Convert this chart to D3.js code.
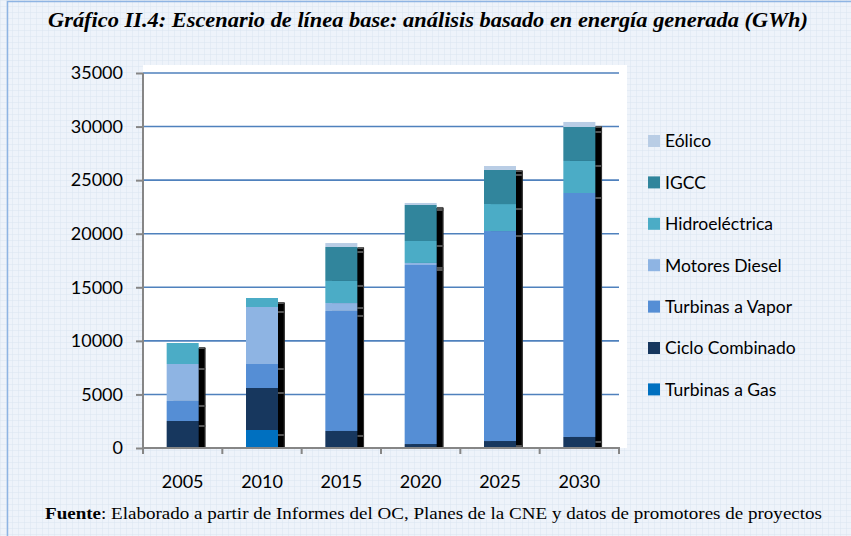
<!DOCTYPE html>
<html>
<head>
<meta charset="utf-8">
<script src="https://cdn.jsdelivr.net/npm/d3@7"></script>
<style>
  html, body { margin: 0; padding: 0; background: #fff; }
  svg { display: block; }
</style>
</head>
<body>
<svg id="chart" width="851" height="536"></svg>
<script>
// ─── Data ─────────────────────────────────────────────────────────────────────
const years = ['2005', '2010', '2015', '2020', '2025', '2030'];

const turbinasGas    = [0, 1680, 0, 0, 0, 0];
const cicloCombinado = [2520, 3920, 1590, 370, 650, 1030];
const turbinasVapor  = [1870, 2240, 11200, 16710, 19600, 22770];
const motoresDiesel  = [3450, 5320, 740, 190, 0, 0];
const hidroelectrica = [1960, 840, 2060, 2050, 2520, 2990];
const igcc           = [0, 0, 3170, 3360, 3180, 3170];
const eolico         = [0, 0, 370, 190, 370, 470];

const yTicks = [0, 5000, 10000, 15000, 20000, 25000, 30000, 35000];

// stacking order bottom → top
const series = [
  { key: 'Turbinas a Gas',   values: turbinasGas,    color: '#0070c0' },
  { key: 'Ciclo Combinado',  values: cicloCombinado, color: '#17375e' },
  { key: 'Turbinas a Vapor', values: turbinasVapor,  color: '#558ed5' },
  { key: 'Motores Diesel',   values: motoresDiesel,  color: '#8eb4e3' },
  { key: 'Hidroeléctrica',   values: hidroelectrica, color: '#4bacc6' },
  { key: 'IGCC',             values: igcc,           color: '#31859c' },
  { key: 'Eólico',           values: eolico,         color: '#b9cde5' }
];

// ─── Layout ───────────────────────────────────────────────────────────────────
const W = 851, H = 536;
const plot = { left: 143, right: 619, top: 73, bottom: 448 };
const SHADOW_DX = 6.7, SHADOW_DY = 5;
const sans = 'Lato, "Open Sans", sans-serif';
const serif = '"Liberation Serif", "Times New Roman", serif';

const svg = d3.select('#chart');
const defs = svg.append('defs');

// graph-paper background
const pat = defs.append('pattern')
  .attr('id', 'paper')
  .attr('width', 6).attr('height', 6)
  .attr('patternUnits', 'userSpaceOnUse');
pat.append('rect').attr('width', 6).attr('height', 6).attr('fill', '#eef3fa');
pat.append('path').attr('d', 'M6,0 L0,0 L0,6').attr('fill', 'none')
  .attr('stroke', '#dbe5f1').attr('stroke-width', 1);

defs.append('clipPath').attr('id', 'plotClip')
  .append('rect')
  .attr('x', plot.left).attr('y', 0)
  .attr('width', W).attr('height', plot.bottom);

svg.append('rect').attr('width', W).attr('height', H).attr('fill', 'url(#paper)');
svg.append('rect')
  .attr('x', 7.5).attr('y', 1.5).attr('width', W + 20).attr('height', H + 20)
  .attr('fill', 'none').attr('stroke', '#8eb4e3').attr('stroke-width', 1.5);

// white plot area
svg.append('rect')
  .attr('x', plot.left).attr('y', plot.top - 8)
  .attr('width', plot.right - plot.left + 8).attr('height', plot.bottom - plot.top + 8)
  .attr('fill', '#ffffff');

// ─── Scales ───────────────────────────────────────────────────────────────────
const x = d3.scaleBand()
  .domain(years)
  .range([plot.left, plot.right])
  .paddingInner(0.5966)
  .paddingOuter(0.2983);

const y = d3.scaleLinear()
  .domain([0, 35000])
  .range([plot.bottom, plot.top]);

// gridlines
svg.append('g')
  .selectAll('line')
  .data(yTicks.filter(t => t > 0))
  .join('line')
  .attr('x1', plot.left).attr('x2', plot.right)
  .attr('y1', d => y(d)).attr('y2', d => y(d))
  .attr('stroke', '#4f81bd').attr('stroke-width', 1.6);

// ─── Bars ─────────────────────────────────────────────────────────────────────
const rows = years.map((yr, i) => {
  const r = { year: yr };
  series.forEach(s => { r[s.key] = s.values[i]; });
  return r;
});
const stacked = d3.stack().keys(series.map(s => s.key))(rows);

const segs = [];
stacked.forEach((layer, li) => {
  layer.forEach(d => {
    if (d[1] - d[0] > 0) segs.push({ year: d.data.year, y0: d[0], y1: d[1], color: series[li].color });
  });
});

// shadow behind each bar
const shadow = svg.append('g').attr('clip-path', 'url(#plotClip)');
shadow.selectAll('rect')
  .data(segs)
  .join('rect')
  .attr('x', d => x(d.year) + SHADOW_DX)
  .attr('y', d => y(d.y1) + SHADOW_DY)
  .attr('width', x.bandwidth())
  .attr('height', d => y(d.y0) - y(d.y1))
  .attr('fill', '#000');
shadow.selectAll('line.edge')
  .data(segs)
  .join('line')
  .attr('class', 'edge')
  .attr('x1', d => x(d.year) + x.bandwidth())
  .attr('x2', d => x(d.year) + x.bandwidth() + SHADOW_DX)
  .attr('y1', d => y(d.y1) + SHADOW_DY)
  .attr('y2', d => y(d.y1) + SHADOW_DY)
  .attr('stroke', '#555').attr('stroke-width', 2);
shadow.selectAll('line.side')
  .data(years)
  .join('line')
  .attr('class', 'side')
  .attr('x1', d => x(d) + x.bandwidth() + SHADOW_DX - 0.5)
  .attr('x2', d => x(d) + x.bandwidth() + SHADOW_DX - 0.5)
  .attr('y1', (d, i) => y(d3.sum(series, s => s.values[i])) + SHADOW_DY)
  .attr('y2', plot.bottom)
  .attr('stroke', '#333').attr('stroke-width', 1);

svg.append('g')
  .selectAll('rect')
  .data(segs)
  .join('rect')
  .attr('x', d => x(d.year))
  .attr('y', d => y(d.y1))
  .attr('width', x.bandwidth())
  .attr('height', d => y(d.y0) - y(d.y1))
  .attr('fill', d => d.color);

// ─── Axes ─────────────────────────────────────────────────────────────────────
const yAxis = svg.append('g')
  .attr('transform', `translate(${plot.left},0)`)
  .call(d3.axisLeft(y).tickValues(yTicks).tickSize(7).tickPadding(13).tickFormat(d3.format('d')));
yAxis.select('.domain').attr('stroke', '#868686').attr('stroke-width', 2)
  .attr('d', `M0,${plot.top}V${plot.bottom}`);
yAxis.selectAll('.tick line').attr('stroke', '#868686').attr('stroke-width', 2);
yAxis.selectAll('.tick text')
  .attr('font-family', sans).attr('font-size', 18).attr('fill', '#000');

const xAxis = svg.append('g')
  .attr('transform', `translate(0,${plot.bottom})`)
  .call(d3.axisBottom(x).tickSize(0).tickPadding(27));
xAxis.select('.domain').remove();
xAxis.selectAll('.tick text')
  .attr('font-family', sans).attr('font-size', 18).attr('fill', '#000');

// category boundary ticks
const bounds = d3.range(years.length + 1).map(i => plot.left + i * x.step());
xAxis.append('g')
  .selectAll('line')
  .data(bounds)
  .join('line')
  .attr('x1', d => d).attr('x2', d => d)
  .attr('y1', 0).attr('y2', 6)
  .attr('stroke', '#868686').attr('stroke-width', 2);
xAxis.append('line')
  .attr('x1', plot.left - 1).attr('x2', plot.right + 1)
  .attr('y1', 0).attr('y2', 0)
  .attr('stroke', '#868686').attr('stroke-width', 2);

// ─── Legend ───────────────────────────────────────────────────────────────────
const legend = svg.append('g').attr('transform', 'translate(648,141)');
const items = legend.selectAll('g')
  .data(series.slice().reverse())
  .join('g')
  .attr('transform', (d, i) => `translate(0,${i * 41.4})`);
items.append('rect')
  .attr('x', 0).attr('y', -6).attr('width', 12).attr('height', 12)
  .attr('fill', d => d.color);
items.append('text')
  .attr('x', 17).attr('dy', '0.36em')
  .attr('font-family', sans).attr('font-size', 17.5).attr('fill', '#000')
  .text(d => d.key);

// ─── Title & source ───────────────────────────────────────────────────────────
svg.append('text')
  .attr('x', 48).attr('y', 27)
  .attr('font-family', serif).attr('font-size', 21)
  .attr('font-weight', 'bold').attr('font-style', 'italic')
  .attr('textLength', 760).attr('lengthAdjust', 'spacingAndGlyphs')
  .text('Gráfico II.4: Escenario de línea base: análisis basado en energía generada (GWh)');

const src = svg.append('text')
  .attr('x', 45).attr('y', 519)
  .attr('font-family', serif).attr('font-size', 17)
  .attr('textLength', 777).attr('lengthAdjust', 'spacingAndGlyphs');
src.append('tspan').attr('font-weight', 'bold').text('Fuente');
src.append('tspan').text(': Elaborado a partir de Informes del OC, Planes de la CNE y datos de promotores de proyectos');
</script>
</body>
</html>
